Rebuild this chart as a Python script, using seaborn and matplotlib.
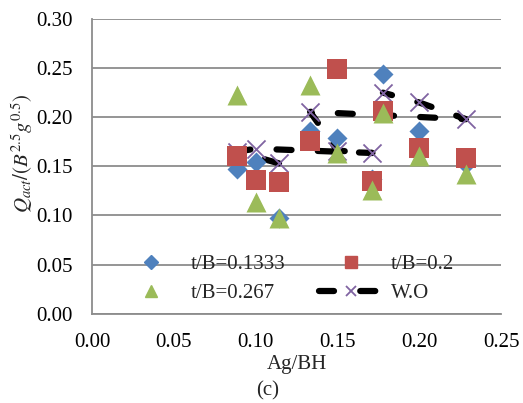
import numpy as np
import pandas as pd
import seaborn as sns
import matplotlib.pyplot as plt
from matplotlib.lines import Line2D

# Ag/BH values shared by every series
ag_bh = [0.0889, 0.1, 0.1143, 0.1333, 0.15, 0.1714, 0.1778, 0.2, 0.2286]
q_t1333 = [0.147, 0.154, 0.097, 0.186, 0.179, 0.137, 0.244, 0.186, 0.152]
q_t02 = [0.161, 0.136, 0.134, 0.176, 0.249, 0.135, 0.206, 0.169, 0.158]
q_t0267 = [0.223, 0.114, 0.097, 0.233, 0.164, 0.126, 0.204, 0.161, 0.142]
q_wo = [0.165, 0.168, 0.153, 0.2055, 0.166, 0.1636, 0.225, 0.215, 0.198]
# order in which the W.O points are joined by the dashed line
wo_order = [2, 0, 1, 5, 4, 3, 8, 7, 6]

blue, red, green, purple = "#4F81BD", "#C0504D", "#9BBB59", "#8064A2"
grey = "#8c8c8c"
fs = 15

sns.set_style("white")
plt.rcParams["font.family"] = ["Liberation Serif", "DejaVu Serif"]
plt.rcParams["mathtext.fontset"] = "stix"

fig = plt.figure(figsize=(5.23, 4.03), dpi=100)
ax = fig.add_axes([0.176, 0.2216, 0.782, 0.7313])

dash = (0, (2.4, 4.2))
wo = pd.DataFrame({"x": ag_bh, "y": q_wo}).iloc[wo_order]
sns.lineplot(data=wo, x="x", y="y", sort=False, estimator=None, color="black",
             lw=4.5, ls=dash, dash_capstyle="round", zorder=2, ax=ax, legend=False)
sns.scatterplot(x=ag_bh, y=q_wo, marker="x", color=purple, s=169, linewidth=1.3,
                zorder=2.5, ax=ax, legend=False)
sns.scatterplot(x=ag_bh, y=q_t1333, marker="D", color=blue, s=104, linewidth=0,
                zorder=3, ax=ax, legend=False)
sns.scatterplot(x=ag_bh, y=q_t02, marker="s", color=red, s=207, linewidth=0,
                zorder=3.1, ax=ax, legend=False)
sns.scatterplot(x=ag_bh, y=q_t0267, marker="^", color=green, s=207, linewidth=0,
                zorder=3.2, ax=ax, legend=False)

ax.set_xlim(0, 0.25)
ax.set_ylim(0, 0.30)
ax.set_xticks(np.arange(0, 0.251, 0.05))
ax.set_yticks(np.arange(0, 0.301, 0.05))
ax.xaxis.set_major_formatter(plt.FormatStrFormatter("%.2f"))
ax.yaxis.set_major_formatter(plt.FormatStrFormatter("%.2f"))
ax.tick_params(axis="both", direction="out", length=4, width=1.2, color=grey,
               labelsize=fs, labelcolor="black")
ax.tick_params(axis="y", pad=10)
ax.tick_params(axis="x", pad=10)
ax.yaxis.grid(True, color=grey, lw=1.3, zorder=0)
ax.set_axisbelow(True)
for side in ["top", "right"]:
    ax.spines[side].set_visible(False)
for side in ["left", "bottom"]:
    ax.spines[side].set_color(grey)
    ax.spines[side].set_linewidth(1.3)

ax.set_ylabel(r"$Q_{act}/(B^{2.5}g^{0.5})$", fontsize=fs)
ax.yaxis.set_label_coords(-0.14, 0.545)
ax.set_xlabel("Ag/BH", fontsize=fs)
ax.xaxis.set_label_coords(0.5, -0.14)
fig.text(0.512, 0.03, "(c)", ha="center", va="center", fontsize=fs)

handles = [
    Line2D([], [], ls="none", marker="D", ms=7, color=blue),
    Line2D([], [], ls="none", marker="^", ms=8.5, color=green),
    Line2D([], [], ls="none", marker="s", ms=8.5, color=red),
    Line2D([], [], color="black", lw=4.5, ls=dash, dash_capstyle="round",
           marker="x", ms=7, mec=purple, mew=1.3),
]
labels = ["t/B=0.1333", "t/B=0.267", "t/B=0.2", "W.O"]
ax.legend(handles, labels, ncol=2, frameon=False, fontsize=fs,
          loc="center left", bbox_to_anchor=(0.066, 0.118), borderpad=0,
          borderaxespad=0, handlelength=3.05, handletextpad=0.4,
          columnspacing=1.6, labelspacing=0.45)

fig.savefig("out.png", dpi=100)
